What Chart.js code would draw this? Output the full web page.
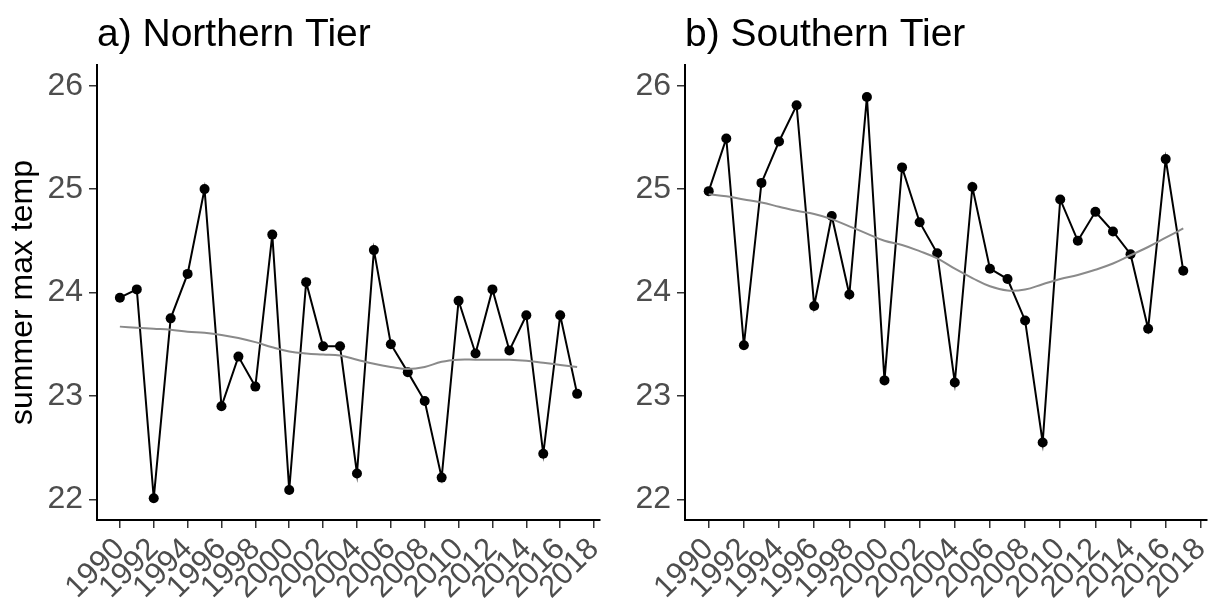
<!DOCTYPE html>
<html>
<head>
<meta charset="utf-8">
<script src="https://cdn.jsdelivr.net/npm/chart.js@4.4.0/dist/chart.umd.min.js"></script>
<style>
  body { margin: 0; background: #fff; }
  #wrap { position: relative; width: 1215px; height: 600px; }
  canvas { position: absolute; top: 0; }
</style>
</head>
<body>
<div id="wrap">
  <canvas id="northChart" width="610" height="600" style="left:0"></canvas>
  <canvas id="southChart" width="605" height="600" style="left:610px"></canvas>
</div>
<script>
const years = [1990, 1991, 1992, 1993, 1994, 1995, 1996, 1997, 1998, 1999,
               2000, 2001, 2002, 2003, 2004, 2005, 2006, 2007, 2008, 2009,
               2010, 2011, 2012, 2013, 2014, 2015, 2016, 2017]
const xTicks = [1990, 1992, 1994, 1996, 1998, 2000, 2002, 2004, 2006, 2008, 2010, 2012, 2014, 2016, 2018]
const yTicks = [22, 23, 24, 25, 26]

// a) northern tier
const northTemp = [23.95, 24.03, 22.01, 23.75, 24.18, 25.0, 22.9, 23.38, 23.09, 24.56,
                   22.09, 24.1, 23.48, 23.48, 22.25, 24.41, 23.5, 23.23, 22.95, 22.21,
                   23.92, 23.41, 24.03, 23.44, 23.78, 22.44, 23.78, 23.02]
const northSmooth = [23.67, 23.66, 23.65, 23.64, 23.62, 23.61, 23.59, 23.56, 23.52, 23.47,
                     23.43, 23.41, 23.40, 23.39, 23.35, 23.31, 23.28, 23.26, 23.28, 23.33,
                     23.35, 23.35, 23.35, 23.35, 23.34, 23.32, 23.30, 23.28]

// b) southern tier
const southTemp = [24.98, 25.49, 23.49, 25.06, 25.46, 25.81, 23.87, 24.74, 23.98, 25.89,
                   23.15, 25.21, 24.68, 24.38, 23.13, 25.02, 24.23, 24.13, 23.73, 22.55,
                   24.9, 24.5, 24.78, 24.59, 24.37, 23.65, 25.29, 24.21]
const southSmooth = [24.95, 24.93, 24.90, 24.87, 24.83, 24.79, 24.76, 24.71, 24.64, 24.57,
                     24.50, 24.46, 24.40, 24.33, 24.23, 24.14, 24.06, 24.02, 24.03, 24.08,
                     24.13, 24.17, 24.22, 24.28, 24.36, 24.44, 24.53, 24.62]

const FONT = '"Liberation Sans", Arial, Helvetica, sans-serif'
Chart.defaults.font.family = FONT

// draws "a) Northern Tier" etc. flush with the panel's left edge
const panelTitle = {
    id: 'panelTitle',
    afterDraw(chart, args, opts) {
        const c = chart.ctx
        c.save()
        c.font = '39px ' + FONT
        c.fillStyle = '#000'
        c.textBaseline = 'alphabetic'
        c.textAlign = 'left'
        c.fillText(opts.text, chart.chartArea.left, 46)
        c.restore()
    }
}

const toPoints = (vals) => years.map((yr, i) => ({ x: yr, y: vals[i] }))

const makeChart = (el, title, temps, smooth, axisWidth, showYTitle, padRight) => {
    return new Chart(el, {
        type: 'line',
        data: {
            datasets: [{
                // loess trend, drawn on top
                data: toPoints(smooth),
                borderColor: '#8a8a8a',
                borderWidth: 2,
                pointRadius: 0,
                tension: 0.4,
                fill: false
            }, {
                data: toPoints(temps),
                borderColor: '#000',
                borderWidth: 2,
                pointRadius: 5,
                pointBackgroundColor: '#000',
                pointBorderWidth: 0,
                tension: 0,
                fill: false
            }]
        },
        plugins: [panelTitle],
        options: {
            responsive: false,
            animation: false,
            devicePixelRatio: 1,
            layout: { padding: { top: 65, right: padRight, left: 0, bottom: 0 } },
            plugins: {
                legend: { display: false },
                tooltip: { enabled: false },
                panelTitle: { text: title }
            },
            scales: {
                x: {
                    type: 'linear',
                    min: 1988.65,
                    max: 2018.35,
                    afterBuildTicks: s => { s.ticks = xTicks.map(v => ({ value: v })) },
                    afterFit: s => { s.height = 80; s.paddingLeft = 0; s.paddingRight = 0 },
                    ticks: {
                        autoSkip: false,
                        minRotation: 45,
                        maxRotation: 45,
                        padding: 3,
                        color: '#4d4d4d',
                        font: { size: 31 },
                        callback: v => String(v)
                    },
                    grid: { drawOnChartArea: false, tickLength: 8, color: '#333', lineWidth: 1.5 },
                    border: { color: '#000', width: 2 }
                },
                y: {
                    min: 21.8,
                    max: 26.2,
                    afterBuildTicks: s => { s.ticks = yTicks.map(v => ({ value: v })) },
                    afterFit: s => { s.width = axisWidth; s.paddingTop = 0; s.paddingBottom = 0 },
                    ticks: {
                        padding: 6,
                        color: '#4d4d4d',
                        font: { size: 32 },
                        callback: v => String(v)
                    },
                    grid: { drawOnChartArea: false, tickLength: 8, color: '#333', lineWidth: 1.5 },
                    border: { color: '#000', width: 2 },
                    title: {
                        display: showYTitle,
                        text: 'summer max temp',
                        color: '#000',
                        font: { size: 32 },
                        padding: { top: 4, bottom: 4 }
                    }
                }
            }
        }
    })
}

makeChart(document.getElementById('northChart'), 'a) Northern Tier', northTemp, northSmooth, 97, true, 10)
makeChart(document.getElementById('southChart'), 'b) Southern Tier', southTemp, southSmooth, 75, false, 8)
</script>
</body>
</html>
